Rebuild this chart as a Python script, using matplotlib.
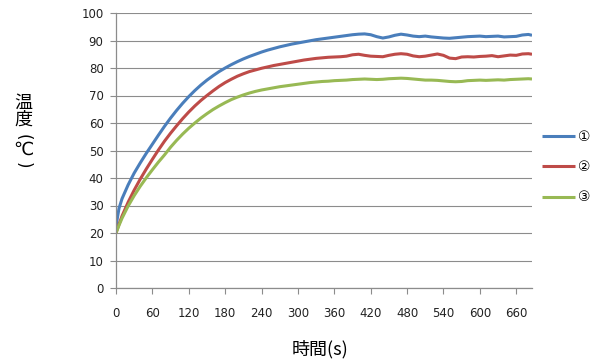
import numpy as np
import matplotlib.pyplot as plt

plt.rcParams['font.family'] = ['DejaVu Sans', 'Noto Sans CJK JP']

# time (s)
t = [0, 5, 10, 20, 30, 40, 50, 60, 70, 80, 90, 100, 110, 120, 130, 140, 150, 160, 170, 180,
     190, 200, 210, 220, 230, 240, 250, 260, 270, 280, 290, 300, 310, 320, 330, 340, 350, 360,
     370, 380, 390, 400, 410, 420, 430, 440, 450, 460, 470, 480, 490, 500, 510, 520, 530, 540,
     550, 560, 570, 580, 590, 600, 610, 620, 630, 640, 650, 660, 670, 680, 686]

# ① temperature
s1 = [22.5, 29.0, 32.5, 37.5, 41.8, 45.5, 49.0, 52.3, 55.6, 58.8, 61.8, 64.6, 67.2, 69.6, 71.8,
      73.8, 75.6, 77.2, 78.7, 80.0, 81.2, 82.3, 83.3, 84.2, 85.0, 85.8, 86.5, 87.1, 87.7, 88.2,
      88.7, 89.1, 89.5, 89.9, 90.3, 90.6, 90.9, 91.2, 91.5, 91.8, 92.1, 92.3, 92.4, 92.1, 91.4,
      90.9, 91.3, 91.9, 92.3, 92.0, 91.6, 91.4, 91.6, 91.3, 91.1, 90.9, 90.8, 91.0, 91.2, 91.4,
      91.5, 91.6, 91.4, 91.5, 91.6, 91.3, 91.4, 91.5, 92.0, 92.2, 91.9]

# ② temperature
s2 = [20.0, 23.2, 26.2, 31.2, 35.6, 39.6, 43.3, 46.8, 50.2, 53.4, 56.3, 59.0, 61.6, 64.0, 66.2,
      68.2, 70.0, 71.7, 73.3, 74.7, 75.9, 77.0, 77.9, 78.7, 79.3, 79.9, 80.4, 80.9, 81.3, 81.7,
      82.1, 82.5, 82.9, 83.2, 83.5, 83.7, 83.9, 84.0, 84.1, 84.3, 84.8, 85.0, 84.6, 84.3, 84.2,
      84.1, 84.6, 85.0, 85.2, 85.0, 84.4, 84.1, 84.3, 84.7, 85.1, 84.6, 83.6, 83.4, 84.0, 84.1,
      84.0, 84.2, 84.3, 84.5, 84.1, 84.4, 84.7, 84.6, 85.1, 85.2, 85.0]

# ③ temperature
s3 = [20.0, 22.8, 25.4, 29.8, 33.6, 37.0, 40.1, 43.0, 45.8, 48.4, 51.2, 53.7, 56.0, 58.1, 60.0,
      61.8, 63.4, 64.9, 66.2, 67.4, 68.5, 69.4, 70.2, 70.9, 71.5, 72.0, 72.4, 72.8, 73.2, 73.5,
      73.8, 74.1, 74.4, 74.7, 74.9, 75.1, 75.2, 75.4, 75.5, 75.6, 75.8, 75.9, 76.0, 75.9, 75.8,
      75.9, 76.1, 76.2, 76.3, 76.2, 76.0, 75.8, 75.6, 75.6, 75.5, 75.3, 75.1, 75.0, 75.1, 75.4,
      75.5, 75.6, 75.5, 75.6, 75.7, 75.6, 75.8, 75.9, 76.0, 76.1, 76.0]

labels = ['①', '②', '③']
colors = ['#4A7EBB', '#BE4B48', '#98B954']
xticks = list(range(0, 661, 60))
yticks = list(range(0, 101, 10))

fig = plt.figure(figsize=(6.01, 3.63), dpi=100)
ax = fig.add_axes([116/601, 1-288/363, 416/601, 275/363])

for s, lab, c in zip([s1, s2, s3], labels, colors):
    ax.plot(t, s, color=c, lw=2.2, label=lab, solid_capstyle='butt')

ax.set_xlim(0, 686)
ax.set_ylim(0, 100)
ax.set_xticks(xticks)
ax.set_yticks(yticks)
ax.grid(axis='y', color='#8c8c8c', lw=0.8)
ax.set_axisbelow(True)
for sp in ['top', 'right']:
    ax.spines[sp].set_visible(False)
for sp in ['left', 'bottom']:
    ax.spines[sp].set_color('#8c8c8c')
    ax.spines[sp].set_linewidth(0.9)
ax.tick_params(axis='both', colors='#8c8c8c', labelcolor='#222222', labelsize=8.5, length=4)
ax.tick_params(axis='x', pad=10)
ax.tick_params(axis='y', pad=5)

fig.text(320/601, 1-349/363, '時間(s)', ha='center', va='center', fontsize=13,
         family=['Noto Sans CJK JP'])

# vertical y label, one character at a time
ylab = [('温', 103, 0, 13), ('度', 120, 0, 13), ('(', 137, -90, 12),
        ('℃', 150, 0, 13), (')', 165, -90, 12)]
for ch, yy, rot, fs in ylab:
    fig.text(23/601, 1-yy/363, ch, ha='center', va='center', fontsize=fs, rotation=rot,
             family=['DejaVu Sans', 'Noto Sans CJK JP'])

leg = ax.legend(loc='center left', bbox_to_anchor=(542/601, 1-167/363),
                bbox_transform=fig.transFigure, frameon=False, fontsize=10,
                handlelength=2.4, handletextpad=0.2, labelspacing=1.18,
                borderpad=0, borderaxespad=0)
for txt in leg.get_texts():
    txt.set_color('black')

fig.savefig('out.png', dpi=100)
